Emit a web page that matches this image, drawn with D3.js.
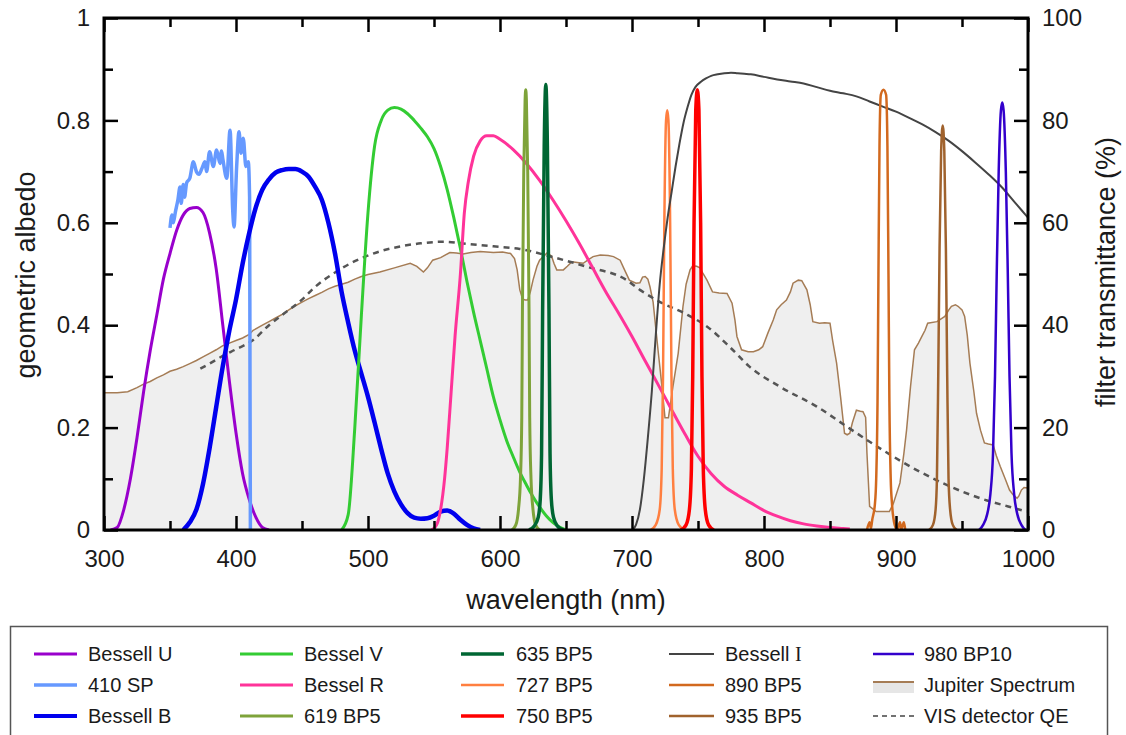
<!DOCTYPE html>
<html>
<head>
<meta charset="utf-8">
<script src="https://cdn.jsdelivr.net/npm/d3@7"></script>
<style>
  body { margin: 0; background: #fff; }
  text { font-family: "Liberation Sans", Arial, sans-serif; fill: #1a1a1a; }
</style>
</head>
<body>
<svg id="chart" width="1126" height="735"></svg>
<script>
// ---- data (nm, transmittance %) ----
var besselU = [[305,0],[310,0.5],[315,4],[320,10],[325,18],[330,27],[335,35],[340,42],[345,49],[350,54],[355,58.5],[360,61.5],[365,62.8],[370,63],[375,62],[380,58],[385,51],[390,40],[395,29],[400,19],[405,11],[410,6],[415,2.5],[420,0.5],[425,0]];
var sp410 = [[350,59],[351.5,61.5],[352.5,60],[354,62],[356,64.5],[357.6,67],[358.5,63.8],[360,67.5],[361,65],[362.6,67.8],[365,68.7],[367.7,71.9],[370,70],[372,69.5],[374,70.5],[376.5,71.9],[377.7,70],[380,73.9],[382.8,71],[385.3,74.2],[387.9,71.6],[389,74],[390,72.5],[393,68.7],[395.5,78.1],[397.5,62.5],[398.5,59.2],[400.5,71],[402.3,77.8],[403.8,73.6],[405.5,76.5],[407.5,71],[409.3,71.9],[410.3,65],[410.6,30],[410.9,0]];
var besselB = [[360,0],[365,1.5],[370,4],[375,9],[380,16],[385,24],[390,32],[395,39],[400,45],[405,52],[410,58],[415,63],[420,66.5],[425,68.5],[430,69.8],[435,70.3],[440,70.5],[445,70.5],[450,70],[455,69],[460,67],[465,64.5],[470,60],[475,54],[480,46.5],[485,40.5],[490,35],[495,30.5],[500,26],[505,21],[510,15.8],[515,11],[520,7.5],[525,5],[530,3.3],[535,2.4],[540,2.2],[545,2.3],[550,2.8],[555,3.6],[560,3.8],[565,3.2],[570,2],[575,1],[580,0.3],[585,0]];
var besselV = [[480,0],[485,3],[490,20],[495,42],[500,62],[505,75],[510,80],[515,82],[520,82.5],[525,82.2],[530,81.3],[535,80],[540,78.5],[545,76.8],[550,74.5],[555,71],[560,66.5],[565,61],[570,55],[575,48.5],[580,42.5],[585,37],[590,31.5],[595,26],[600,21.5],[605,17.5],[610,14.3],[615,11.3],[620,8.8],[625,6.5],[630,4.5],[635,2.8],[640,1.5],[645,0.6],[650,0]];
var besselR = [[548,0],[552,1],[555,4],[558,10],[560,16],[563,27],[566,38],[570,50],[573,62],[576,68],[580,73],[585,76],[590,77],[595,77],[600,76.3],[610,74.3],[620,71.6],[630,68.3],[640,64.5],[650,60.4],[660,56],[670,51.3],[680,46.6],[690,42.3],[700,37.8],[710,33],[720,28.3],[730,23.5],[740,18.8],[750,14.4],[760,11],[770,8.5],[780,6.8],[790,5.3],[800,3.8],[810,2.7],[820,1.8],[830,1.2],[840,0.8],[850,0.5],[860,0.3],[865,0.2]];
var bp619 = [[609,0],[612,1],[614,4],[615.5,10],[616.5,22],[617,43],[618,70],[619,84],[619.5,86],[620,84],[621,70],[622,43],[622.5,22],[623.5,10],[625,4],[627,1],[630,0]];
var bp635 = [[622,0],[626,0.8],[629,2.5],[630.5,6],[631.5,15],[632.3,43],[633.5,75],[634.7,87],[635.9,75],[637.1,43],[637.9,15],[638.9,6],[640.5,2.5],[643.5,0.8],[648,0]];
var bp727 = [[714,0],[718,1],[721,4],[722.5,12],[723.5,30],[724.5,60],[725.8,80],[726.7,82],[727.6,80],[728.9,60],[729.9,30],[730.9,12],[732.4,4],[735.4,1],[740,0]];
var bp750 = [[737,0],[741,1],[743.5,4],[745,12],[746,30],[747,60],[748.3,82],[749.5,86],[750.7,82],[752,60],[753,30],[754,12],[755.5,4],[758,1],[762,0]];
var besselI = [[700,0],[703,1],[706,4],[709,10],[712,18],[715,27],[718,38],[721,48],[724,55],[727,61],[730,66],[733,71],[736,75.5],[739,79.5],[742,82.5],[745,85],[748,86.5],[752,87.5],[756,88.2],[760,88.7],[765,89],[770,89.2],[775,89.3],[780,89.2],[785,89.1],[790,89],[800,88.5],[810,88],[820,87.6],[830,87.2],[840,86.5],[850,85.8],[860,85.3],[870,84.7],[880,83.7],[890,82.7],[900,81.7],[910,80.5],[920,79.2],[930,77.7],[940,76],[950,74],[960,71.8],[970,69.5],[980,67],[990,64],[1000,61]];
var bp890 = [[878,0],[880,1.5],[881,0.3],[882,2],[884,5],[885,10],[886,25],[886.7,50],[887.5,75],[888.5,85],[890.5,86],[892.5,85],[893.5,75],[894.3,50],[895,25],[896,10],[897,5],[899,1],[901,0],[903,1.5],[904,0.2],[906,1.5],[907,0]];
var bp935 = [[925,0],[928,1],[930,4],[931,10],[932,30],[933,55],[934.2,74],[935.4,79],[936.6,74],[937.8,55],[938.8,30],[939.8,10],[941,4],[943,1],[946,0]];
var bp980 = [[963,0],[966,1],[969,3],[971.5,7],[973.5,15],[975,30],[976.3,50],[977.8,70],[979.5,82],[980.5,83.5],[981.5,82],[983.2,70],[984.7,50],[986,30],[987.5,15],[989.5,7],[992,3],[995,1],[998,0]];
var detectorQE = [[373,31.5],[380,32.5],[390,34],[400,35.3],[413,37.1],[425,40],[435,42],[450,45],[460,47.5],[475,50.3],[490,52.5],[510,54.5],[525,55.4],[540,56],[557,56.3],[575,55.9],[595,55.4],[615,54.9],[640,53.3],[666,51.4],[696,48.8],[706,46.9],[720,44.7],[740,42.3],[757,39.7],[775,35.5],[789,31.9],[812,28],[840,24.1],[865,19.8],[890,15.6],[915,11.8],[941,8.5],[965,6.1],[985,4.6],[999,3.6]];
// Jupiter geometric albedo (left axis)
var jupiter = [[300,0.268],[310,0.268],[318,0.27],[325,0.278],[330,0.285],[335,0.29],[340,0.297],[345,0.303],[350,0.31],[355,0.314],[360,0.319],[365,0.325],[370,0.331],[375,0.338],[380,0.345],[385,0.352],[390,0.36],[395,0.365],[400,0.37],[405,0.375],[410,0.382],[413,0.39],[420,0.4],[425,0.407],[430,0.414],[435,0.421],[440,0.43],[445,0.438],[450,0.445],[455,0.452],[460,0.458],[465,0.464],[470,0.471],[475,0.476],[480,0.48],[485,0.484],[490,0.49],[495,0.495],[500,0.499],[509,0.504],[520,0.512],[532,0.521],[537,0.515],[542,0.504],[545,0.512],[549,0.527],[555,0.532],[562,0.542],[567,0.541],[572,0.539],[578,0.542],[585,0.544],[595,0.542],[602,0.543],[608,0.54],[611,0.53],[613,0.508],[615,0.469],[617,0.452],[619,0.449],[621,0.449],[623,0.465],[625,0.488],[628,0.515],[630,0.527],[635.6,0.541],[639,0.535],[641,0.52],[643,0.508],[648,0.508],[651,0.515],[654.5,0.524],[660,0.522],[663,0.521],[667,0.528],[670.5,0.534],[676,0.537],[682,0.536],[686,0.534],[691,0.527],[694,0.51],[698,0.488],[703,0.482],[706,0.483],[708,0.494],[710,0.495],[712,0.49],[713.6,0.475],[716,0.445],[719.7,0.352],[722.7,0.28],[725,0.219],[727.6,0.219],[731,0.28],[735,0.345],[738.6,0.436],[741,0.48],[744,0.508],[746,0.516],[749,0.515],[751.5,0.512],[754,0.5],[756.8,0.488],[761,0.465],[766,0.463],[772,0.462],[775.8,0.443],[778,0.41],[779.5,0.378],[783,0.352],[788,0.348],[792,0.348],[796,0.352],[799,0.358],[803,0.385],[807,0.41],[809.6,0.43],[813,0.44],[817,0.449],[820,0.465],[822,0.482],[826,0.488],[828.6,0.487],[832.5,0.469],[835,0.44],[837,0.407],[842,0.404],[846,0.405],[850,0.404],[852,0.37],[855,0.326],[858,0.26],[861,0.189],[863,0.186],[865,0.189],[867,0.21],[870,0.234],[873,0.232],[875,0.231],[877,0.22],[878,0.15],[880,0.046],[885,0.036],[890,0.036],[895,0.036],[898,0.052],[903,0.092],[906,0.15],[908,0.195],[911,0.28],[914,0.352],[917,0.365],[919.6,0.378],[922,0.39],[924,0.404],[931,0.407],[937,0.417],[940,0.43],[942,0.437],[945,0.44],[947,0.437],[950,0.43],[952,0.417],[954,0.38],[956,0.326],[959,0.27],[961,0.228],[964,0.195],[967,0.17],[970,0.168],[973.6,0.166],[976,0.145],[979,0.124],[983,0.098],[986,0.078],[989,0.068],[991.7,0.062],[993,0.066],[995,0.078],[997,0.083],[1000,0.082]];

var xMajor = [300,400,500,600,700,800,900,1000];
var xMinor = [350,450,550,650,750,850,950];
var yLeftMajor = [0,0.2,0.4,0.6,0.8,1];
var yLeftMinor = [0.1,0.3,0.5,0.7,0.9];
var yRightMajor = [0,20,40,60,80,100];
var yRightMinor = [10,30,50,70,90];

// filters drawn on the transmittance axis, in draw order
var filters = [
    { name: "Bessell U", data: besselU, color: "#9900cc", w: 3 },
    { name: "410 SP", data: sp410, color: "#6699ff", w: 3.5 },
    { name: "Bessell B", data: besselB, color: "#0000ee", w: 4.5 },
    { name: "Bessel V", data: besselV, color: "#33cc33", w: 3 },
    { name: "Bessel R", data: besselR, color: "#ff3399", w: 3 },
    { name: "619 BP5", data: bp619, color: "#7ea33a", w: 3 },
    { name: "635 BP5", data: bp635, color: "#006633", w: 3.5 },
    { name: "727 BP5", data: bp727, color: "#ff7f40", w: 2.5 },
    { name: "750 BP5", data: bp750, color: "#ff0000", w: 3.5 },
    { name: "Bessell I", data: besselI, color: "#444444", w: 2 },
    { name: "890 BP5", data: bp890, color: "#d2691e", w: 2.5 },
    { name: "935 BP5", data: bp935, color: "#a0622d", w: 2.5 },
    { name: "980 BP10", data: bp980, color: "#3300cc", w: 2.5 }
];

var svg = d3.select("#chart");
var plotL = 104, plotR = 1028, plotT = 18, plotB = 530;

var x = d3.scaleLinear().domain([300, 1000]).range([plotL, plotR]);
var yL = d3.scaleLinear().domain([0, 1]).range([plotB, plotT]);
var yR = d3.scaleLinear().domain([0, 100]).range([plotB, plotT]);

svg.append("defs").append("clipPath").attr("id", "plotclip")
    .append("rect").attr("x", plotL).attr("y", plotT)
    .attr("width", plotR - plotL).attr("height", plotB - plotT);

var plot = svg.append("g").attr("clip-path", "url(#plotclip)");

// Jupiter spectrum: grey fill and thin brown outline
plot.append("path").datum(jupiter)
    .attr("fill", "#efefef")
    .attr("d", d3.area().x(function (d) { return x(d[0]); }).y0(yL(0)).y1(function (d) { return yL(d[1]); }));
plot.append("path").datum(jupiter)
    .attr("fill", "none").attr("stroke", "#a57c55").attr("stroke-width", 1.5)
    .attr("d", d3.line().x(function (d) { return x(d[0]); }).y(function (d) { return yL(d[1]); }));

var lineR = d3.line()
    .x(function (d) { return x(d[0]); })
    .y(function (d) { return yR(d[1]); })
    .curve(d3.curveMonotoneX);

// detector QE dashed
plot.append("path").datum(detectorQE)
    .attr("fill", "none").attr("stroke", "#555").attr("stroke-width", 2.5)
    .attr("stroke-dasharray", "6,5")
    .attr("d", lineR);

plot.selectAll(".filter").data(filters).enter().append("path")
    .attr("class", "filter")
    .attr("fill", "none")
    .attr("stroke", function (d) { return d.color; })
    .attr("stroke-width", function (d) { return d.w; })
    .attr("stroke-linejoin", "round")
    .attr("d", function (d) { return lineR(d.data); });

// ---- axes (ticks pointing inward) ----
function styleAxis(g, size) {
    g.select(".domain").remove();
    g.selectAll("line").attr("stroke", "#000").attr("stroke-width", 2.5);
    g.selectAll("text").attr("font-size", size).attr("fill", "#1a1a1a")
        .style("font-family", "'Liberation Sans', Arial, sans-serif");
}

svg.append("g").attr("transform", "translate(0," + plotB + ")")
    .call(d3.axisBottom(x).tickValues(xMajor).tickSize(-14).tickPadding(20).tickFormat(d3.format("d")))
    .call(styleAxis, 24);
svg.append("g").attr("transform", "translate(0," + plotB + ")")
    .call(d3.axisBottom(x).tickValues(xMinor).tickSize(-9).tickFormat(""))
    .call(styleAxis, 24);
svg.append("g").attr("transform", "translate(0," + plotT + ")")
    .call(d3.axisTop(x).tickValues(xMajor).tickSize(-14).tickFormat(""))
    .call(styleAxis, 24);
svg.append("g").attr("transform", "translate(0," + plotT + ")")
    .call(d3.axisTop(x).tickValues(xMinor).tickSize(-9).tickFormat(""))
    .call(styleAxis, 24);

svg.append("g").attr("transform", "translate(" + plotL + ",0)")
    .call(d3.axisLeft(yL).tickValues(yLeftMajor).tickSize(-14).tickPadding(14)
        .tickFormat(function (d) { return (d === 0 || d === 1) ? String(d) : d.toFixed(1); }))
    .call(styleAxis, 24);
svg.append("g").attr("transform", "translate(" + plotL + ",0)")
    .call(d3.axisLeft(yL).tickValues(yLeftMinor).tickSize(-9).tickFormat(""))
    .call(styleAxis, 24);

svg.append("g").attr("transform", "translate(" + plotR + ",0)")
    .call(d3.axisRight(yR).tickValues(yRightMajor).tickSize(-14).tickPadding(14).tickFormat(d3.format("d")))
    .call(styleAxis, 24);
svg.append("g").attr("transform", "translate(" + plotR + ",0)")
    .call(d3.axisRight(yR).tickValues(yRightMinor).tickSize(-9).tickFormat(""))
    .call(styleAxis, 24);

svg.append("rect")
    .attr("x", plotL).attr("y", plotT)
    .attr("width", plotR - plotL).attr("height", plotB - plotT)
    .attr("fill", "none").attr("stroke", "#000").attr("stroke-width", 3);

// axis titles
svg.append("text")
    .attr("x", (plotL + plotR) / 2).attr("y", 609)
    .attr("text-anchor", "middle").attr("font-size", 27)
    .text("wavelength (nm)");
svg.append("text")
    .attr("transform", "translate(35,275) rotate(-90)")
    .attr("text-anchor", "middle").attr("font-size", 27)
    .text("geometric albedo");
svg.append("text")
    .attr("transform", "translate(1115,272) rotate(-90)")
    .attr("text-anchor", "middle").attr("font-size", 27)
    .text("filter transmittance (%)");

// ---- legend ----
var legend = svg.append("g");
legend.append("rect")
    .attr("x", 10.5).attr("y", 626.5).attr("width", 1097).attr("height", 130)
    .attr("fill", "#fff").attr("stroke", "#555").attr("stroke-width", 1.5);

var colX = [[34, 77, 88], [240, 293, 304], [461, 504, 516], [669, 714, 725], [873, 914, 924]];
var rowY = [654, 685, 716];

var legendItems = filters.map(function (f) { return { name: f.name, color: f.color, w: Math.min(f.w, 4), kind: "line" }; });
legendItems.push({ name: "Jupiter Spectrum", color: "#a57c55", w: 1.5, kind: "area" });
legendItems.push({ name: "VIS detector QE", color: "#444", w: 1.5, kind: "dash" });

legendItems.forEach(function (item, i) {
    var c = colX[Math.floor(i / 3)], cy = rowY[i % 3];
    var g = legend.append("g");
    if (item.kind === "area") {
        g.append("rect").attr("x", c[0]).attr("y", cy - 3).attr("width", c[1] - c[0]).attr("height", 11)
            .attr("fill", "#e6e6e6");
        g.append("line").attr("x1", c[0]).attr("x2", c[1]).attr("y1", cy - 3).attr("y2", cy - 3)
            .attr("stroke", item.color).attr("stroke-width", 2);
    } else {
        g.append("line").attr("x1", c[0]).attr("x2", c[1]).attr("y1", cy).attr("y2", cy)
            .attr("stroke", item.color).attr("stroke-width", item.kind === "dash" ? 1.5 : item.w)
            .attr("stroke-dasharray", item.kind === "dash" ? "5,4" : null);
    }
    var t = g.append("text").attr("x", c[2]).attr("y", cy).attr("dy", "0.35em").attr("font-size", 20);
    if (item.name === "Bessell I") {
        t.append("tspan").text("Bessell ");
        t.append("tspan").style("font-family", "'Liberation Serif', 'Times New Roman', serif").text("I");
    } else {
        t.text(item.name);
    }
});
</script>
</body>
</html>
